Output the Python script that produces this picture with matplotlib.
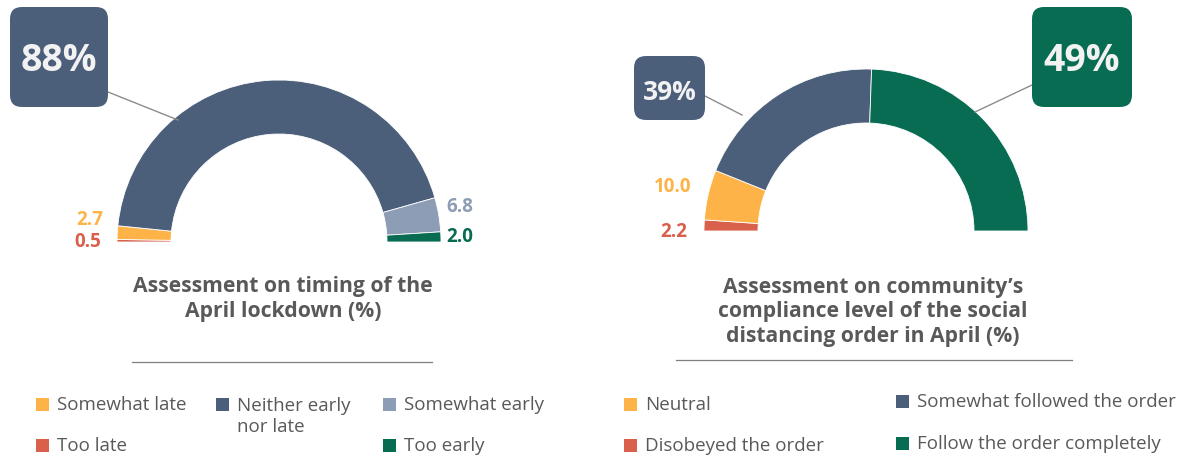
import matplotlib
matplotlib.use("Agg")
import matplotlib.pyplot as plt
from matplotlib.patches import Wedge, FancyBboxPatch, Rectangle

W, H = 1188, 460

# ---- data ----
timing_labels = ["Too late", "Somewhat late", "Neither early\nnor late", "Somewhat early", "Too early"]
timing_values = [0.5, 2.7, 88, 6.8, 2.0]
timing_colors = ["#d9604a", "#fdb347", "#4c5f7a", "#8d9db5", "#086c53"]

comply_labels = ["Disobeyed the order", "Neutral", "Somewhat followed the order", "Follow the order completely"]
comply_values = [2.2, 10.0, 39, 49]
comply_colors = ["#d9604a", "#fdb347", "#4c5f7a", "#086c53"]

TITLE_COLOR = "#595959"
LEG_SIZE = 13.5
plt.rcParams["font.family"] = ["Open Sans", "DejaVu Sans"]

fig = plt.figure(figsize=(W / 100, H / 100), dpi=100)
ax = fig.add_axes([0, 0, 1, 1])
ax.set_xlim(0, W)
ax.set_ylim(0, H)
ax.axis("off")


def Y(py):
    return H - py


def half_donut(cx, cy, values, colors, r_out=162, width=54):
    total = float(sum(values))
    cum = 0.0
    for v, c in zip(values, colors):
        t2 = 180 - cum / total * 180
        t1 = 180 - (cum + v) / total * 180
        ax.add_patch(Wedge((cx, Y(cy)), r_out, t1, t2, width=width,
                           facecolor=c, edgecolor="white", linewidth=0.6))
        cum += v


def callout(x0, y0, x1, y1, text, color, size, anchor, target):
    ax.add_patch(FancyBboxPatch((x0, Y(y1)), x1 - x0, y1 - y0,
                                boxstyle="round,pad=0,rounding_size=12",
                                facecolor=color, edgecolor="none", zorder=3))
    ax.text((x0 + x1) / 2, Y((y0 + y1) / 2 + 3), text, color="#f2f2f2",
            fontsize=size, fontweight="bold", ha="center", va="center", zorder=4)
    ax.plot([anchor[0], target[0]], [Y(anchor[1]), Y(target[1])],
            color="#8c8c8c", linewidth=1.0, zorder=2)


def value_label(x, y, value, color):
    ax.text(x, Y(y), f"{value:.1f}", color=color, fontsize=13.5,
            fontweight="bold", ha="center", va="center")


def legend_item(x, y, label, color):
    ax.add_patch(Rectangle((x, Y(y) - 6.5), 13, 13, facecolor=color, edgecolor="none"))
    ax.text(x + 21, Y(y), label, color=TITLE_COLOR, fontsize=LEG_SIZE,
            ha="left", va="center")


# ---- left chart ----
half_donut(279, 243, timing_values, timing_colors)
value_label(90, 220, timing_values[1], timing_colors[1])
value_label(88, 242, timing_values[0], timing_colors[0])
value_label(460, 207, timing_values[3], timing_colors[3])
value_label(460, 237, timing_values[4], timing_colors[4])
callout(10, 8, 108, 108, f"{timing_values[2]:.0f}%", timing_colors[2], 27,
        (108, 93), (178, 121))
ax.text(283, Y(299), "Assessment on timing of the\nApril lockdown (%)", color=TITLE_COLOR,
        fontsize=15.2, fontweight="bold", ha="center", va="center", linespacing=1.2)
ax.plot([132, 432], [Y(363), Y(363)], color="#7f7f7f", linewidth=0.9)

legend_item(36, 405, timing_labels[1], timing_colors[1])
legend_item(36, 446, timing_labels[0], timing_colors[0])
ax.add_patch(Rectangle((216, Y(405) - 6.5), 13, 13, facecolor=timing_colors[2], edgecolor="none"))
ax.text(237, Y(416.5), timing_labels[2], color=TITLE_COLOR, fontsize=LEG_SIZE,
        ha="left", va="center", linespacing=1.2)
legend_item(383, 405, timing_labels[3], timing_colors[3])
legend_item(383, 446, timing_labels[4], timing_colors[4])

# ---- right chart ----
half_donut(866, 232, comply_values, comply_colors)
value_label(673, 187, comply_values[1], comply_colors[1])
value_label(674, 232, comply_values[0], comply_colors[0])
callout(634, 57, 705, 121, f"{comply_values[2]:.0f}%", comply_colors[2], 19,
        (705, 97), (742, 116))
callout(1032, 8, 1132, 108, f"{comply_values[3]:.0f}%", comply_colors[3], 27,
        (1032, 86), (975, 113))
ax.text(873, Y(312), "Assessment on community\u2019s\ncompliance level of the social\n"
        "distancing order in April (%)", color=TITLE_COLOR,
        fontsize=15.2, fontweight="bold", ha="center", va="center", linespacing=1.2)
ax.plot([676, 1072], [Y(361), Y(361)], color="#7f7f7f", linewidth=0.9)

legend_item(624, 405, comply_labels[1], comply_colors[1])
legend_item(624, 446, comply_labels[0], comply_colors[0])
legend_item(896, 402, comply_labels[2], comply_colors[2])
legend_item(896, 444, comply_labels[3], comply_colors[3])

fig.savefig("out.png", dpi=100)
